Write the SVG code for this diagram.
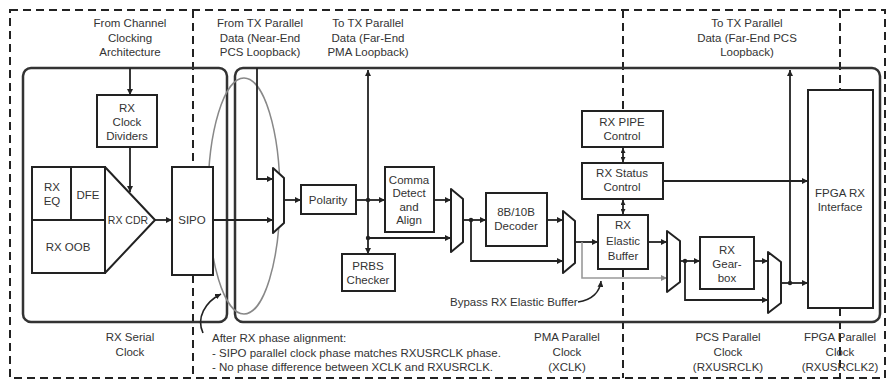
<svg xmlns="http://www.w3.org/2000/svg" width="889" height="381" viewBox="0 0 889 381">
<style>
text{font-family:"Liberation Sans",Arial,sans-serif;font-size:11.5px;fill:#333;text-anchor:middle}
.l{text-anchor:start}
.s{font-size:10.5px}
.box{fill:#fff;stroke:#222;stroke-width:2}
.mux{fill:#fff;stroke:#222;stroke-width:2;stroke-linejoin:round}
.panel{fill:none;stroke:#333;stroke-width:2.5}
.dash{fill:none;stroke:#222;stroke-width:2;stroke-dasharray:8 5}
.w{fill:none;stroke:#222;stroke-width:1.8}
.g{fill:none;stroke:#999;stroke-width:1.6}
.dot{fill:#222}
</style>
<defs>
<marker id="a" viewBox="0 0 10 10" refX="10" refY="5" markerWidth="6" markerHeight="6" markerUnits="userSpaceOnUse" orient="auto"><path d="M0,0L10,5L0,10z" fill="#222"/></marker>
<marker id="ag" viewBox="0 0 10 10" refX="10" refY="5" markerWidth="6" markerHeight="6" markerUnits="userSpaceOnUse" orient="auto"><path d="M0,0L10,5L0,10z" fill="#888"/></marker>
<marker id="as" viewBox="0 0 10 10" refX="10" refY="5" markerWidth="5" markerHeight="5" markerUnits="userSpaceOnUse" orient="auto-start-reverse"><path d="M0,0L10,5L0,10z" fill="#222"/></marker>
</defs>

<g id="frame">
<rect class="dash" x="10" y="10" width="875" height="368"/>
<path class="dash" d="M193,10V167M193,275V378M623,10V111M623,269V378M840,10V90M840,308V378"/>
<rect class="panel" x="23" y="68" width="204" height="254" rx="8"/>
<rect class="panel" x="235" y="68" width="645" height="254" rx="8"/>
<ellipse cx="244" cy="196" rx="36" ry="118" fill="none" stroke="#888" stroke-width="1.5"/>
</g>

<g id="labels">
<text x="130" y="27">From Channel</text>
<text x="130" y="42">Clocking</text>
<text x="130" y="56">Architecture</text>
<text x="260" y="27">From TX Parallel</text>
<text x="260" y="42">Data (Near-End</text>
<text x="260" y="56">PCS Loopback)</text>
<text x="368" y="27">To TX Parallel</text>
<text x="368" y="42">Data (Far-End</text>
<text x="368" y="56">PMA Loopback)</text>
<text x="747" y="27">To TX Parallel</text>
<text x="747" y="42">Data (Far-End PCS</text>
<text x="747" y="56">Loopback)</text>
<text x="130" y="341">RX Serial</text>
<text x="130" y="356">Clock</text>
<text class="l" x="212" y="342">After RX phase alignment:</text>
<text class="l" x="212" y="357">- SIPO parallel clock phase matches RXUSRCLK phase.</text>
<text class="l" x="212" y="371">- No phase difference between XCLK and RXUSRCLK.</text>
<text x="567" y="341">PMA Parallel</text>
<text x="567" y="356">Clock</text>
<text x="567" y="371">(XCLK)</text>
<text x="728" y="341">PCS Parallel</text>
<text x="728" y="356">Clock</text>
<text x="728" y="371">(RXUSRCLK)</text>
<text x="840" y="341">FPGA Parallel</text>
<text x="840" y="356">Clock</text>
<text x="840" y="371">(RXUSRCLK2)</text>
<text class="l" x="450" y="306">Bypass RX Elastic Buffer</text>
</g>

<g id="connectors">
<path class="w" d="M130,68V95" marker-end="url(#a)"/>
<path class="w" d="M130,147V192" marker-end="url(#a)"/>
<path class="w" d="M155,220H172" marker-end="url(#a)"/>
<path class="w" d="M213,220H273" marker-end="url(#a)"/>
<path class="w" d="M257,68V179H273" marker-end="url(#a)"/>
<path class="w" d="M284,200H301" marker-end="url(#a)"/>
<path class="w" d="M356,200H385" marker-end="url(#a)"/>
<path class="w" d="M368,200V70" marker-end="url(#a)"/>
<path class="w" d="M368,200V254" marker-end="url(#a)"/>
<path class="w" d="M368,238H451" marker-end="url(#a)"/>
<path class="w" d="M434,200H451" marker-end="url(#a)"/>
<path class="w" d="M463,220H486" marker-end="url(#a)"/>
<path class="w" d="M471,220V261H563" marker-end="url(#a)"/>
<path class="w" d="M547,220H563" marker-end="url(#a)"/>
<path class="w" d="M575,242H598" marker-end="url(#a)"/>
<path class="g" d="M582,242V278H667" marker-end="url(#ag)"/>
<path class="w" d="M648,242H667" marker-end="url(#a)"/>
<path class="w" d="M680,261H700" marker-end="url(#a)"/>
<path class="w" d="M685,261V300H768" marker-end="url(#a)"/>
<path class="w" d="M754,261H768" marker-end="url(#a)"/>
<path class="w" d="M781,283H808" marker-end="url(#a)"/>
<path class="w" d="M790,283V70" marker-end="url(#a)"/>
<path class="w" d="M663,181H808" marker-end="url(#a)"/>
<path class="w" d="M623,148V162" marker-start="url(#as)" marker-end="url(#as)"/>
<path class="w" d="M623,200V214" marker-start="url(#as)" marker-end="url(#as)"/>
<path fill="none" stroke="#222" stroke-width="1.6" d="M203,333C196,318 205,302 221,294" marker-end="url(#a)"/>
<path fill="none" stroke="#222" stroke-width="1.6" d="M578,302C592,300 600,292 601,281" marker-end="url(#a)"/>
<circle class="dot" cx="368" cy="200" r="2.2"/>
<circle class="dot" cx="368" cy="238" r="2.2"/>
<circle class="dot" cx="471" cy="220" r="2.2"/>
<circle class="dot" cx="685" cy="261" r="2.2"/>
<circle class="dot" cx="790" cy="283" r="2.2"/>
</g>

<g id="clock-dividers"><rect class="box" x="97" y="95" width="60" height="52"/><text x="127" y="112">RX</text><text x="127" y="126">Clock</text><text x="127" y="140">Dividers</text></g>
<g id="rx-eq"><rect class="box" x="32" y="167" width="39" height="53"/><text x="52" y="191">RX</text><text x="52" y="205">EQ</text></g>
<g id="dfe"><rect class="box" x="71" y="167" width="34" height="53"/><text x="88" y="199">DFE</text></g>
<g id="rx-oob"><rect class="box" x="32" y="220" width="73" height="53"/><text x="68" y="251">RX OOB</text></g>
<g id="rx-cdr"><polygon class="mux" points="105,167 155,220 105,273"/><text class="s" x="128" y="224">RX CDR</text></g>
<g id="sipo"><rect class="box" x="172" y="167" width="41" height="108"/><text x="192" y="224">SIPO</text></g>
<g id="mux1"><polygon class="mux" points="273,168 284,178 284,223 273,233"/></g>
<g id="polarity"><rect class="box" x="301" y="185" width="55" height="29"/><text x="328" y="204">Polarity</text></g>
<g id="comma"><rect class="box" x="385" y="167" width="49" height="65"/><text x="409" y="184">Comma</text><text x="409" y="197">Detect</text><text x="409" y="211">and</text><text x="409" y="224">Align</text></g>
<g id="prbs"><rect class="box" x="342" y="254" width="53" height="37"/><text x="368" y="270">PRBS</text><text x="368" y="284">Checker</text></g>
<g id="mux2"><polygon class="mux" points="451,189 463,199 463,242 451,252"/></g>
<g id="decoder"><rect class="box" x="486" y="193" width="61" height="53"/><text x="516" y="216">8B/10B</text><text x="516" y="230">Decoder</text></g>
<g id="mux3"><polygon class="mux" points="563,211 575,221 575,263 563,273"/></g>
<g id="pipe"><rect class="box" x="582" y="111" width="81" height="36"/><text x="622" y="126">RX PIPE</text><text x="622" y="140">Control</text></g>
<g id="status"><rect class="box" x="582" y="163" width="81" height="36"/><text x="622" y="177">RX Status</text><text x="622" y="191">Control</text></g>
<g id="elastic"><rect class="box" x="598" y="215" width="50" height="54"/><text x="623" y="229">RX</text><text x="623" y="245">Elastic</text><text x="623" y="260">Buffer</text></g>
<g id="mux4"><polygon class="mux" points="667,231 680,241 680,282 667,292"/></g>
<g id="gearbox"><rect class="box" x="700" y="237" width="54" height="52"/><text x="727" y="254">RX</text><text x="727" y="268">Gear-</text><text x="727" y="282">box</text></g>
<g id="mux5"><polygon class="mux" points="768,252 781,262 781,303 768,313"/></g>
<g id="fpga"><rect class="box" x="808" y="90" width="65" height="218"/><text x="840" y="197">FPGA RX</text><text x="840" y="211">Interface</text></g>
</svg>
